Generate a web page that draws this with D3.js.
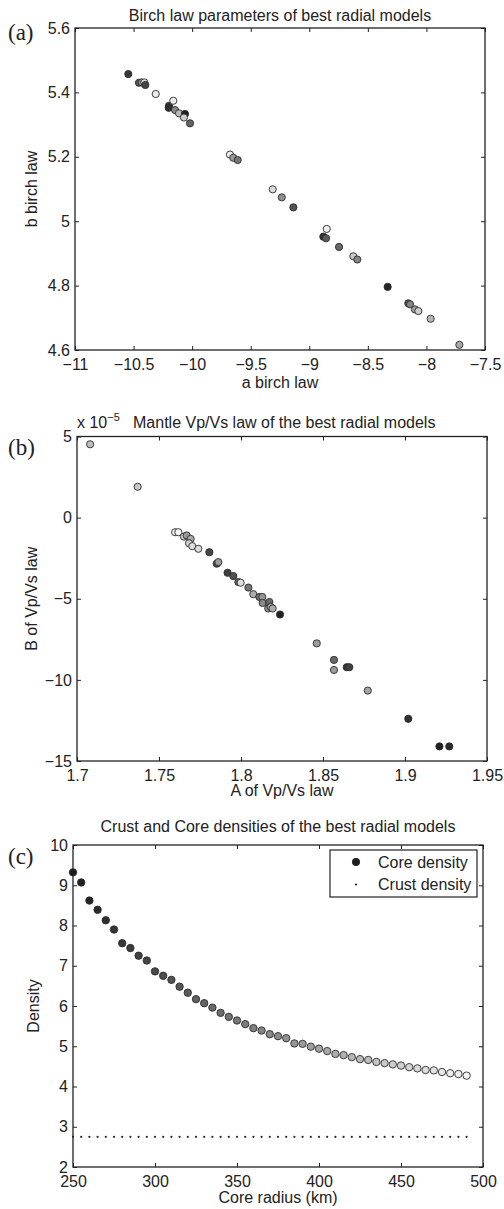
<!DOCTYPE html>
<html>
<head>
<meta charset="utf-8">
<script src="https://cdn.jsdelivr.net/npm/d3@7"></script>
<style>
  body { margin: 0; background: #fff; }
  svg text { font-family: "Liberation Sans", Arial, Helvetica, sans-serif; fill: #222; }
  .plabel { font-family: "Liberation Serif", "Times New Roman", serif; }
</style>
</head>
<body>
<svg id="fig" width="504" height="1209"></svg>
<script>
// ---------- (a) Birch law parameters ----------
const birchA = [-10.545, -10.454, -10.431, -10.408, -10.400, -10.311, -10.198, -10.200, -10.161, -10.146,
                -10.112, -10.061, -10.070, -10.018, -9.677, -9.649, -9.611, -9.312, -9.235, -9.136,
                -8.851, -8.880, -8.857, -8.746, -8.624, -8.590, -8.331, -8.155, -8.140, -8.098,
                -8.069, -7.964, -7.719];
const birchB = [5.457, 5.430, 5.431, 5.431, 5.423, 5.395, 5.358, 5.352, 5.374, 5.345,
                5.335, 5.333, 5.322, 5.304, 5.207, 5.197, 5.190, 5.099, 5.074, 5.043,
                4.976, 4.952, 4.947, 4.920, 4.891, 4.881, 4.796, 4.745, 4.742, 4.726,
                4.721, 4.697, 4.616];
// core radius (km) of each model, used for the grey shade
const birchRadius = [280, 315, 370, 465, 295, 480, 275, 270, 480, 370,
                     425, 255, 445, 330, 480, 390, 350, 460, 375, 310,
                     485, 275, 320, 335, 440, 365, 260, 315, 365, 395,
                     445, 420, 405];
const birchATicks = [-11, -10.5, -10, -9.5, -9, -8.5, -8, -7.5];
const birchATickLabels = ["\u221211", "\u221210.5", "\u221210", "\u22129.5", "\u22129", "\u22128.5", "\u22128", "\u22127.5"];
const birchBTicks = [4.6, 4.8, 5, 5.2, 5.4, 5.6];
const birchBTickLabels = ["4.6", "4.8", "5", "5.2", "5.4", "5.6"];

// ---------- (b) Mantle Vp/Vs law (B in units of 1e-5) ----------
const vpvsA = [1.708, 1.737, 1.7598, 1.7618, 1.7652, 1.7669, 1.7693, 1.7683, 1.7703, 1.7740,
               1.7807, 1.7852, 1.7862, 1.7918, 1.7953, 1.7984, 1.7998, 1.8045, 1.8075, 1.8112,
               1.8130, 1.8132, 1.8173, 1.8166, 1.8181, 1.8193, 1.8238, 1.8462, 1.8567, 1.8567,
               1.8645, 1.8660, 1.8773, 1.902, 1.921, 1.927];
const vpvsB = [4.52, 1.90, -0.90, -0.90, -1.17, -1.10, -1.31, -1.58, -1.76, -1.92,
               -2.13, -2.84, -2.74, -3.40, -3.60, -3.97, -4.01, -4.31, -4.72, -4.89,
               -4.89, -5.26, -5.20, -5.60, -5.50, -5.60, -5.97, -7.75, -8.77, -9.39,
               -9.22, -9.22, -10.66, -12.4, -14.1, -14.1];
const vpvsRadius = [430, 440, 480, 490, 445, 390, 405, 450, 465, 460,
                    295, 300, 390, 290, 310, 330, 465, 350, 410, 345,
                    385, 370, 335, 375, 400, 410, 255, 395, 335, 390,
                    275, 290, 400, 270, 255, 265];
const vpvsExponent = -5;
const vpvsATicks = [1.7, 1.75, 1.8, 1.85, 1.9, 1.95];
const vpvsATickLabels = ["1.7", "1.75", "1.8", "1.85", "1.9", "1.95"];
const vpvsBTicks = [-15, -10, -5, 0, 5];
const vpvsBTickLabels = ["\u221215", "\u221210", "\u22125", "0", "5"];

// ---------- (c) Crust and core densities ----------
const coreRadius = [250, 255, 260, 265, 270, 275, 280, 285, 290, 295,
                    300, 305, 310, 315, 320, 325, 330, 335, 340, 345,
                    350, 355, 360, 365, 370, 375, 380, 385, 390, 395,
                    400, 405, 410, 415, 420, 425, 430, 435, 440, 445,
                    450, 455, 460, 465, 470, 475, 480, 485, 490];
const coreDensity = [9.32, 9.07, 8.62, 8.39, 8.13, 7.90, 7.56, 7.44, 7.25, 7.13,
                     6.86, 6.75, 6.65, 6.48, 6.33, 6.17, 6.07, 5.96, 5.83, 5.73,
                     5.64, 5.55, 5.45, 5.39, 5.30, 5.25, 5.20, 5.07, 5.06, 4.99,
                     4.94, 4.88, 4.81, 4.78, 4.73, 4.68, 4.66, 4.61, 4.58, 4.55,
                     4.52, 4.48, 4.45, 4.41, 4.40, 4.36, 4.33, 4.31, 4.27];
const crustDensity = [2.75, 2.75, 2.75, 2.75, 2.75, 2.75, 2.75, 2.75, 2.75, 2.75,
                      2.75, 2.75, 2.75, 2.75, 2.75, 2.75, 2.75, 2.75, 2.75, 2.75,
                      2.75, 2.75, 2.75, 2.75, 2.75, 2.75, 2.75, 2.75, 2.75, 2.75,
                      2.75, 2.75, 2.75, 2.75, 2.75, 2.75, 2.75, 2.75, 2.75, 2.75,
                      2.75, 2.75, 2.75, 2.75, 2.75, 2.75, 2.75, 2.75, 2.75];
const radiusTicks = [250, 300, 350, 400, 450, 500];
const radiusTickLabels = ["250", "300", "350", "400", "450", "500"];
const densityTicks = [2, 3, 4, 5, 6, 7, 8, 9, 10];
const densityTickLabels = ["2", "3", "4", "5", "6", "7", "8", "9", "10"];
const legendLabels = ["Core density", "Crust density"];

// ---------- drawing ----------
const svg = d3.select("#fig");
const FS = 16;
const ink = "#222";
const shade = d3.scaleLinear().domain([250, 490]).range(["#1c1c1c", "#f5f5f5"]);

function panel(box, xDomain, yDomain, xTicks, xLabels, yTicks, yLabels) {
  const x = d3.scaleLinear().domain(xDomain).range([box.left, box.right]);
  const y = d3.scaleLinear().domain(yDomain).range([box.bottom, box.top]);
  const g = svg.append("g");

  const styleAxis = sel => {
    sel.select(".domain").remove();
    sel.selectAll(".tick line").attr("stroke", ink).attr("stroke-width", 1);
    sel.selectAll(".tick text").attr("font-size", FS).attr("fill", ink)
      .attr("font-family", '"Liberation Sans", Arial, sans-serif');
  };
  g.append("g").attr("transform", `translate(0,${box.bottom})`)
    .call(d3.axisBottom(x).tickValues(xTicks).tickSizeInner(-4).tickSizeOuter(0)
      .tickPadding(9).tickFormat((d, i) => xLabels[i]))
    .call(styleAxis);
  g.append("g").attr("transform", `translate(0,${box.top})`)
    .call(d3.axisTop(x).tickValues(xTicks).tickSizeInner(-4).tickSizeOuter(0).tickFormat(""))
    .call(styleAxis);
  g.append("g").attr("transform", `translate(${box.left},0)`)
    .call(d3.axisLeft(y).tickValues(yTicks).tickSizeInner(-4).tickSizeOuter(0)
      .tickPadding(5).tickFormat((d, i) => yLabels[i]))
    .call(styleAxis);
  g.append("g").attr("transform", `translate(${box.right},0)`)
    .call(d3.axisRight(y).tickValues(yTicks).tickSizeInner(-4).tickSizeOuter(0).tickFormat(""))
    .call(styleAxis);

  g.append("rect")
    .attr("x", box.left).attr("y", box.top)
    .attr("width", box.right - box.left).attr("height", box.bottom - box.top)
    .attr("fill", "none").attr("stroke", ink).attr("stroke-width", 1.3);
  return { g, x, y };
}

function titles(p, box, title, xLabel, yLabel, letter, opts) {
  const cx = (box.left + box.right) / 2;
  p.g.append("text").attr("x", cx).attr("y", opts.titleY)
    .attr("text-anchor", "middle").attr("font-size", FS).text(title);
  p.g.append("text").attr("x", cx).attr("y", box.bottom + opts.xLabelDy)
    .attr("text-anchor", "middle").attr("font-size", FS).text(xLabel);
  p.g.append("text")
    .attr("transform", `translate(${opts.yLabelX},${(box.top + box.bottom) / 2}) rotate(-90)`)
    .attr("text-anchor", "middle").attr("font-size", FS).text(yLabel);
  p.g.append("text").attr("class", "plabel").attr("x", 8).attr("y", opts.letterY)
    .attr("font-size", 23).attr("fill", ink).text(letter);
}

function scatter(p, xs, ys, radii, r) {
  p.g.append("g").selectAll("circle")
    .data(xs.map((v, i) => ({ x: v, y: ys[i], c: radii[i] })))
    .join("circle")
    .attr("cx", d => p.x(d.x)).attr("cy", d => p.y(d.y)).attr("r", r)
    .attr("fill", d => shade(d.c)).attr("stroke", "#2b2b2b").attr("stroke-width", 0.9);
}

// (a)
const boxA = { left: 75, right: 485, top: 28, bottom: 350 };
const pA = panel(boxA, [-11, -7.5], [4.6, 5.6], birchATicks, birchATickLabels, birchBTicks, birchBTickLabels);
titles(pA, boxA, "Birch law parameters of best radial models", "a birch law", "b birch law", "(a)",
  { titleY: 21, xLabelDy: 38, yLabelX: 37, letterY: 40 });
scatter(pA, birchA, birchB, birchRadius, 3.6);

// (b)
const boxB = { left: 77, right: 487, top: 436.5, bottom: 761 };
const pB = panel(boxB, [1.7, 1.95], [-15, 5], vpvsATicks, vpvsATickLabels, vpvsBTicks, vpvsBTickLabels);
titles(pB, boxB, "", "A of Vp/Vs law", "B of Vp/Vs law", "(b)",
  { titleY: 428, xLabelDy: 35, yLabelX: 37, letterY: 455 });
pB.g.append("text").attr("x", 133).attr("y", 428).attr("font-size", FS)
  .text("Mantle Vp/Vs law of the best radial models");
const mult = pB.g.append("text").attr("x", 77).attr("y", 428).attr("font-size", FS);
mult.append("tspan").text("x 10");
mult.append("tspan").attr("dy", -7).attr("font-size", 11).text("\u2212" + Math.abs(vpvsExponent));
scatter(pB, vpvsA, vpvsB, vpvsRadius, 3.6);

// (c)
const boxC = { left: 73, right: 483, top: 845, bottom: 1167 };
const pC = panel(boxC, [250, 500], [2, 10], radiusTicks, radiusTickLabels, densityTicks, densityTickLabels);
titles(pC, boxC, "Crust and Core densities of the best radial models", "Core radius (km)", "Density", "(c)",
  { titleY: 832, xLabelDy: 36, yLabelX: 39, letterY: 864 });
pC.g.append("g").selectAll("circle")
  .data(coreRadius.map((r, i) => ({ r, d: crustDensity[i] })))
  .join("circle")
  .attr("cx", d => pC.x(d.r)).attr("cy", d => pC.y(d.d)).attr("r", 1.1).attr("fill", ink);
scatter(pC, coreRadius, coreDensity, coreRadius, 3.7);

// legend
const lg = pC.g.append("g");
lg.append("rect").attr("x", 330).attr("y", 850).attr("width", 147).attr("height", 47)
  .attr("fill", "#fff").attr("stroke", ink).attr("stroke-width", 1.2);
lg.append("circle").attr("cx", 356).attr("cy", 862).attr("r", 3.7).attr("fill", shade(250)).attr("stroke", "#2b2b2b");
lg.append("circle").attr("cx", 356).attr("cy", 884.5).attr("r", 1.1).attr("fill", ink);
lg.selectAll("text.leg").data(legendLabels).join("text").attr("class", "leg")
  .attr("x", 378).attr("y", (d, i) => 867.5 + i * 22.5).attr("font-size", FS).text(d => d);
</script>
</body>
</html>
